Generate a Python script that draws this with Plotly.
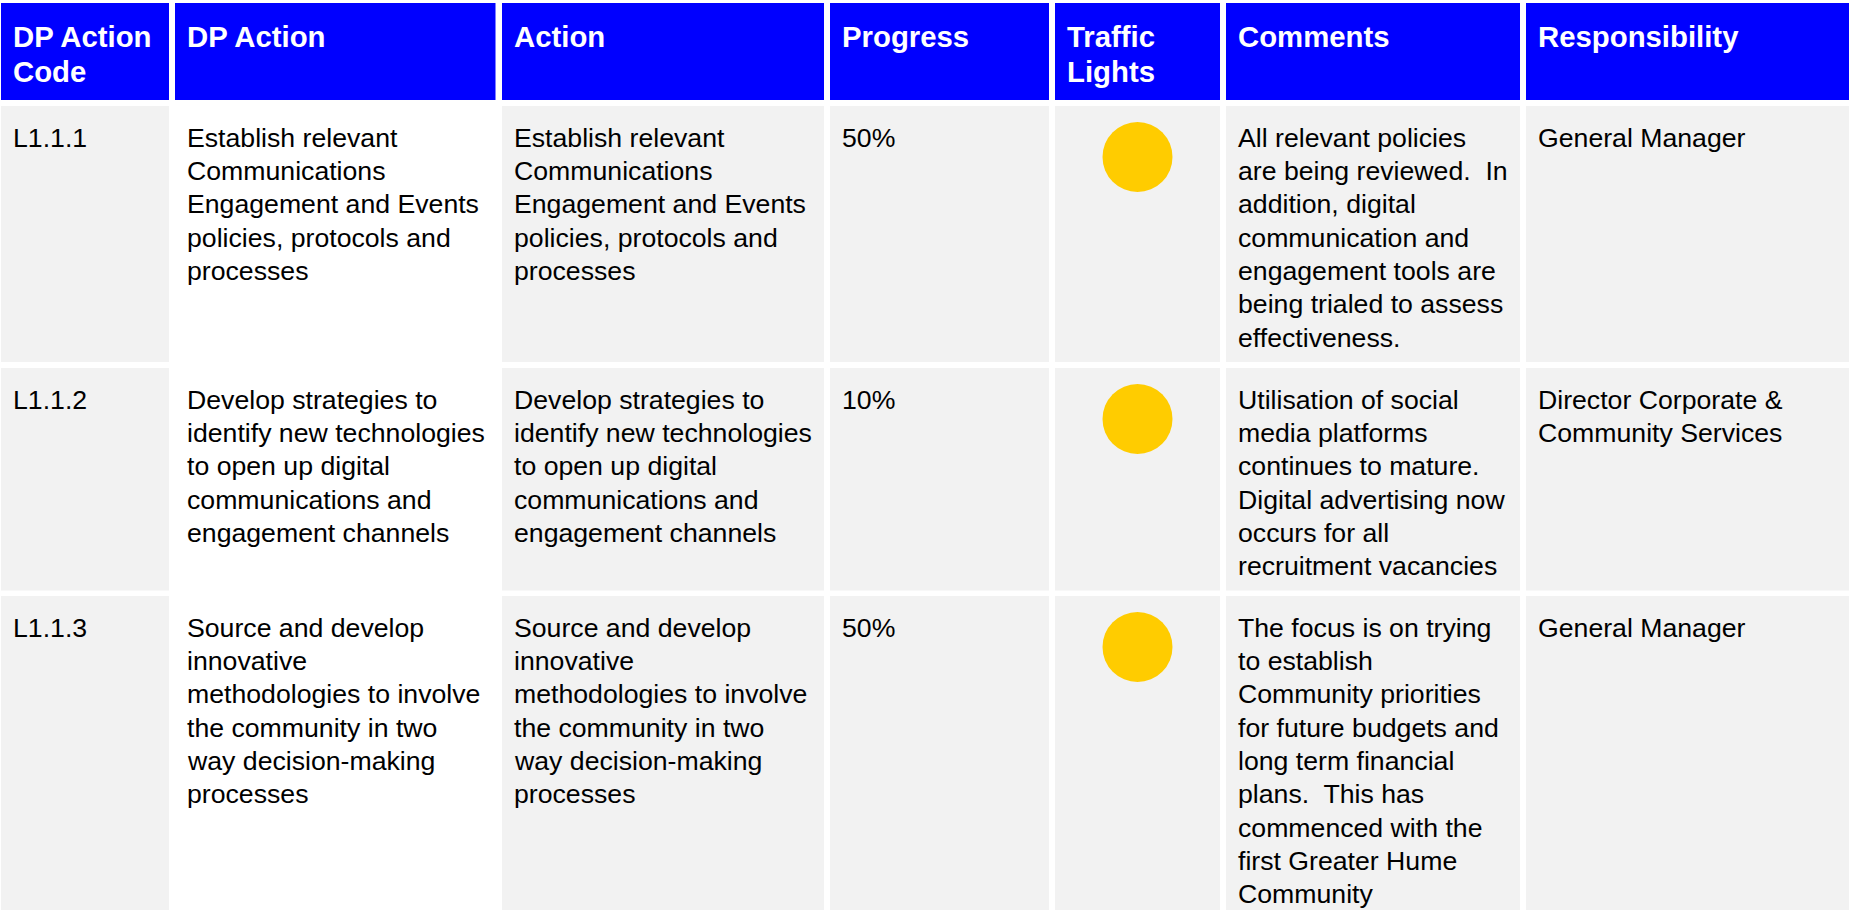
import plotly.graph_objects as go

# ---------------- data ----------------
headers = ["DP Action\nCode", "DP Action", "Action", "Progress", "Traffic\nLights",
           "Comments", "Responsibility"]

codes = ["L1.1.1", "L1.1.2", "L1.1.3"]

dp_actions = [
    "Establish relevant\nCommunications\nEngagement and Events\npolicies, protocols and\nprocesses",
    "Develop strategies to\nidentify new technologies\nto open up digital\ncommunications and\nengagement channels",
    "Source and develop\ninnovative\nmethodologies to involve\nthe community in two\nway decision-making\nprocesses",
]

actions = [
    "Establish relevant\nCommunications\nEngagement and Events\npolicies, protocols and\nprocesses",
    "Develop strategies to\nidentify new technologies\nto open up digital\ncommunications and\nengagement channels",
    "Source and develop\ninnovative\nmethodologies to involve\nthe community in two\nway decision-making\nprocesses",
]

progress = ["50%", "10%", "50%"]

traffic_lights = ["amber", "amber", "amber"]

comments = [
    "All relevant policies\nare being reviewed.\u00a0 In\naddition, digital\ncommunication and\nengagement tools are\nbeing trialed to assess\neffectiveness.",
    "Utilisation of social\nmedia platforms\ncontinues to mature.\nDigital advertising now\noccurs for all\nrecruitment vacancies",
    "The focus is on trying\nto establish\nCommunity priorities\nfor future budgets and\nlong term financial\nplans.\u00a0 This has\ncommenced with the\nfirst Greater Hume\nCommunity",
]

responsibility = [
    "General Manager",
    "Director Corporate &amp;\nCommunity Services",
    "General Manager",
]

# ---------------- layout / style ----------------
W, H = 1849, 910
FONT = "Liberation Sans, Arial, Helvetica, sans-serif"
HEADER_BG = "#0000FF"
CELL_BG = "#F2F2F2"
LIGHT_COLORS = {"amber": "#FFCC00", "green": "#00B050", "red": "#FF0000"}

col_left = [1, 175, 502, 830, 1055, 1226, 1526]
col_right = [169, 495.5, 824, 1049, 1220, 1520, 1849]
col_fill = [CELL_BG, "#FFFFFF", CELL_BG, CELL_BG, CELL_BG, CELL_BG, CELL_BG]

header_top, header_bottom = 3, 100
row_top = [106, 368, 596]
row_bottom = [362, 590.5, 1000]

PAD_X = 12
HDR_SIZE, HDR_LH, HDR_BASE = 29.33, 35.0, 43.7
BODY_SIZE, BODY_LH, BODY_BASE = 26.67, 33.33, 41.0

fig = go.Figure()
shapes = []
annotations = []


def add_lines(text, x, top, base, lh, size, color, bold):
    for i, line in enumerate(text.split("\n")):
        baseline = top + base + i * lh
        yc = baseline - 0.905 * size + 1.117 * size / 2
        annotations.append(dict(
            x=x, y=yc, xref="x", yref="y", xanchor="left", yanchor="middle",
            text=f"<b>{line}</b>" if bold else line, showarrow=False,
            font=dict(family=FONT, size=size, color=color),
            borderpad=0, borderwidth=0,
        ))


# header
for c, h in enumerate(headers):
    shapes.append(dict(type="rect", xref="x", yref="y", x0=col_left[c], x1=col_right[c],
                       y0=header_top, y1=header_bottom, fillcolor=HEADER_BG,
                       line=dict(width=0), layer="below"))
    add_lines(h, col_left[c] + PAD_X, header_top, HDR_BASE, HDR_LH, HDR_SIZE, "white", True)

# body
columns = [codes, dp_actions, actions, progress, None, comments, responsibility]
for r in range(len(codes)):
    for c in range(len(headers)):
        shapes.append(dict(type="rect", xref="x", yref="y", x0=col_left[c], x1=col_right[c],
                           y0=row_top[r], y1=row_bottom[r], fillcolor=col_fill[c],
                           line=dict(width=0), layer="below"))
        if columns[c] is not None:
            add_lines(columns[c][r], col_left[c] + PAD_X, row_top[r], BODY_BASE, BODY_LH,
                      BODY_SIZE, "black", False)

# traffic lights
light_x = [(col_left[4] + col_right[4]) / 2] * len(traffic_lights)
light_y = [t + 51 for t in row_top]
fig.add_trace(go.Scatter(
    x=light_x, y=light_y, mode="markers",
    marker=dict(size=70, color=[LIGHT_COLORS[t] for t in traffic_lights], line=dict(width=0)),
    hoverinfo="skip", showlegend=False,
))

fig.update_layout(
    width=W, height=H, margin=dict(l=0, r=0, t=0, b=0),
    paper_bgcolor="white", plot_bgcolor="white",
    xaxis=dict(range=[0, W], visible=False, fixedrange=True),
    yaxis=dict(range=[H, 0], visible=False, fixedrange=True),
    shapes=shapes, annotations=annotations, showlegend=False,
)

fig.write_html("out.html", config={"displayModeBar": False},
               post_script="document.body.style.margin='0';document.body.style.overflow='hidden';")
